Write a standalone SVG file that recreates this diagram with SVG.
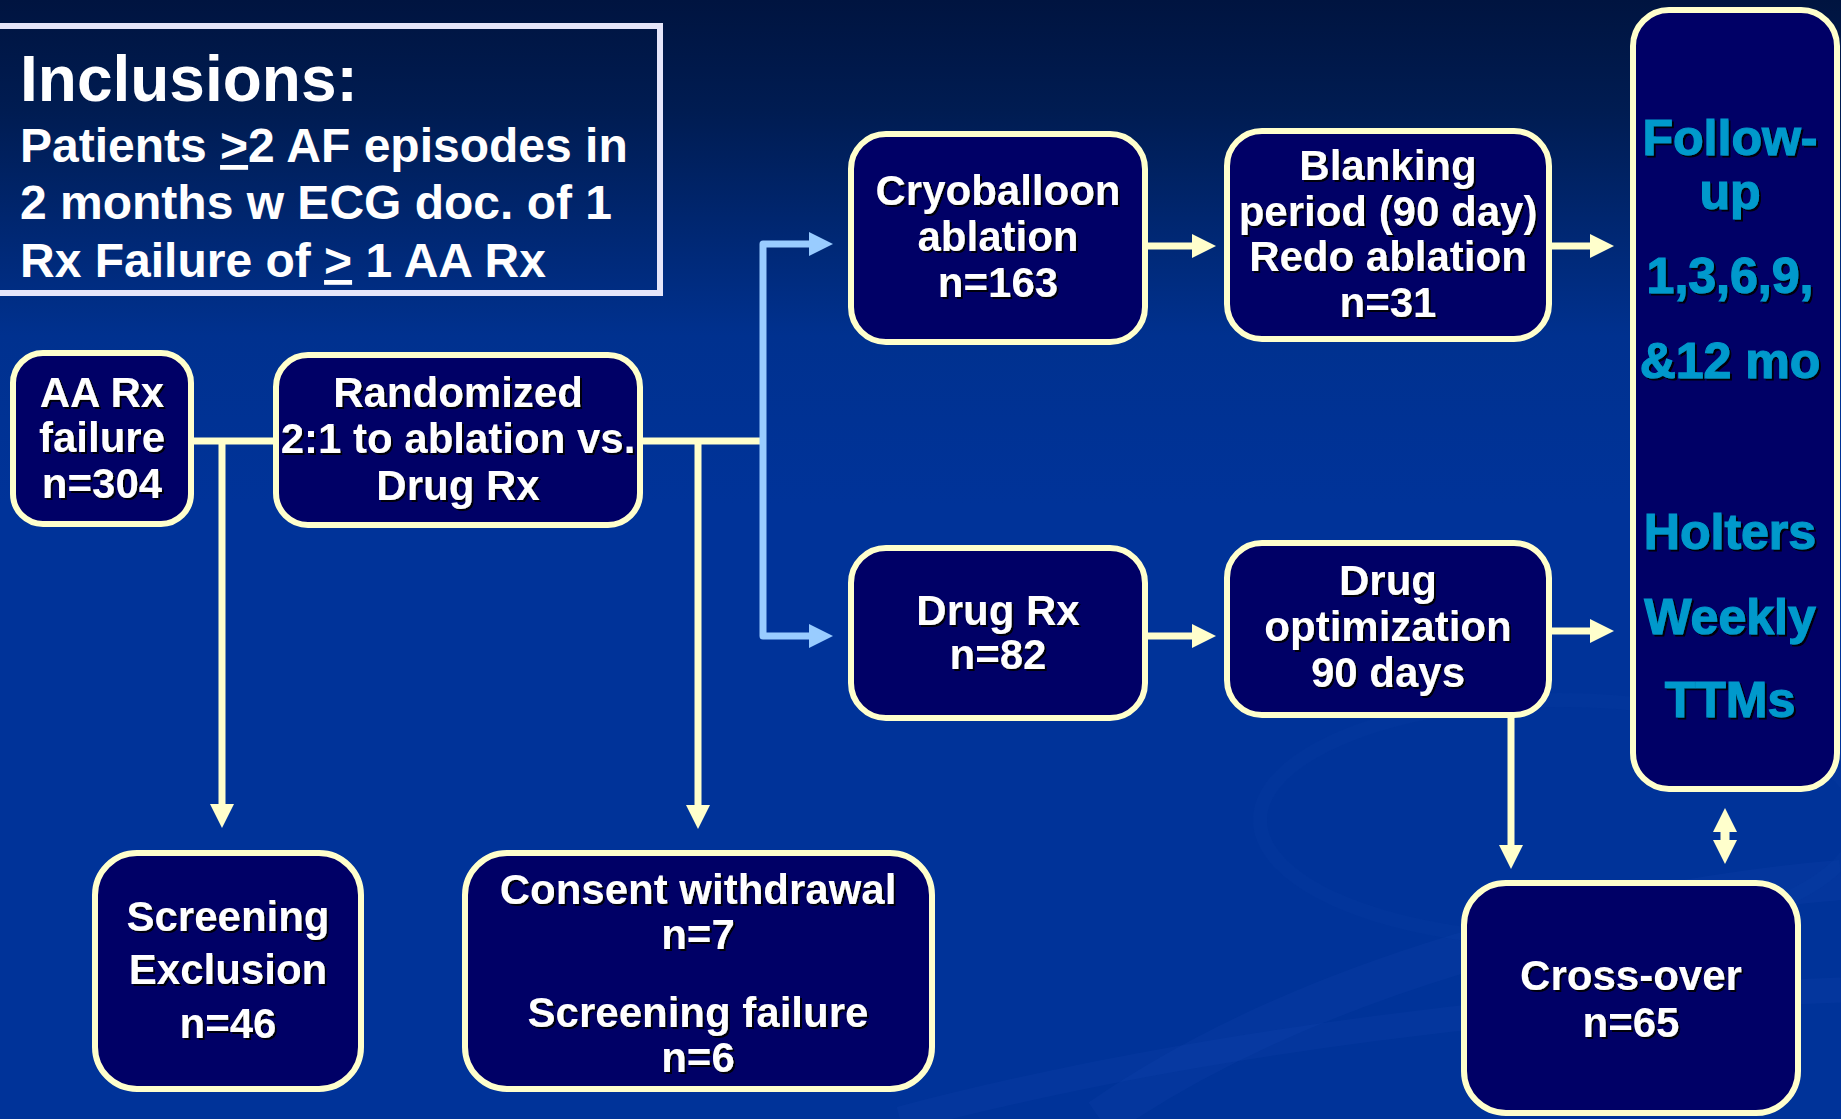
<svg xmlns="http://www.w3.org/2000/svg" width="1841" height="1119" viewBox="0 0 1841 1119">
<defs>
<linearGradient id="bg" x1="0" y1="0" x2="0" y2="1">
<stop offset="0" stop-color="#001440"/>
<stop offset="0.1" stop-color="#001c52"/>
<stop offset="0.3" stop-color="#00318f"/>
<stop offset="0.45" stop-color="#003399"/>
<stop offset="1" stop-color="#003399"/>
</linearGradient>
<filter id="sh" x="-10%" y="-20%" width="130%" height="150%">
<feDropShadow dx="2" dy="2" stdDeviation="0.6" flood-color="#000000" flood-opacity="0.9"/>
</filter>
<marker id="ac" markerUnits="userSpaceOnUse" markerWidth="24" markerHeight="24" viewBox="0 0 24 24" refX="0" refY="12" orient="auto-start-reverse">
<path d="M0,0 L24,12 L0,24 Z" fill="#ffffcc"/>
</marker>
<marker id="ab" markerUnits="userSpaceOnUse" markerWidth="24" markerHeight="24" viewBox="0 0 24 24" refX="0" refY="12" orient="auto-start-reverse">
<path d="M0,0 L24,12 L0,24 Z" fill="#99ccff"/>
</marker>
</defs>
<style>
.node rect{fill:#000066;stroke:#ffffcc;stroke-width:6}
.t{font-family:"Liberation Sans",Arial,sans-serif;font-weight:bold;font-size:42px;fill:#ffffff;text-anchor:middle}
.f{font-family:"Liberation Sans",Arial,sans-serif;font-weight:bold;font-size:50px;fill:#0099cc;stroke:#0099cc;stroke-width:1.2;text-anchor:middle}
.inc{font-family:"Liberation Sans",Arial,sans-serif;font-weight:bold;fill:#ffffff}
.c{fill:none;stroke:#ffffcc;stroke-width:7}
.b{fill:none;stroke:#99ccff;stroke-width:7;stroke-linejoin:round}
</style>
<rect x="0" y="0" width="1841" height="1119" fill="url(#bg)"/>
<g id="swoosh" fill="none" stroke="#2a5bc0">
<path d="M1100,1119 C1300,980 1600,900 1841,880" stroke-width="40" stroke-opacity="0.1"/>
<path d="M900,1119 C1200,1040 1550,1000 1841,990" stroke-width="25" stroke-opacity="0.1"/>
<ellipse cx="1560" cy="820" rx="300" ry="120" stroke-width="14" stroke-opacity="0.05"/>
</g>

<g id="inclusions">
<rect x="-6" y="26" width="666" height="267" fill="none" stroke="#e6e6fa" stroke-width="6"/>
<text class="inc" x="20" y="101" font-size="64">Inclusions:</text>
<text class="inc" x="20" y="162" font-size="48">Patients <tspan text-decoration="underline">&gt;</tspan>2 AF episodes in</text>
<text class="inc" x="20" y="219" font-size="48">2 months w ECG doc. of 1</text>
<text class="inc" x="20" y="277" font-size="48">Rx Failure of <tspan text-decoration="underline">&gt;</tspan> 1 AA Rx</text>
</g>

<g id="connectors">
<line class="c" x1="194" y1="441" x2="276" y2="441"/>
<line class="c" x1="222" y1="441" x2="222" y2="804" marker-end="url(#ac)"/>
<line class="c" x1="643" y1="441" x2="763" y2="441"/>
<line class="c" x1="698" y1="441" x2="698" y2="805" marker-end="url(#ac)"/>
<path class="b" d="M809,244 H763 V636 H809" marker-start="url(#ab)" marker-end="url(#ab)"/>
<line class="c" x1="1148" y1="246" x2="1192" y2="246" marker-end="url(#ac)"/>
<line class="c" x1="1552" y1="246" x2="1590" y2="246" marker-end="url(#ac)"/>
<line class="c" x1="1148" y1="636" x2="1192" y2="636" marker-end="url(#ac)"/>
<line class="c" x1="1552" y1="631" x2="1590" y2="631" marker-end="url(#ac)"/>
<line class="c" x1="1511" y1="717" x2="1511" y2="845" marker-end="url(#ac)"/>
<line x1="1725" y1="832" x2="1725" y2="840" stroke="#ffffcc" stroke-width="9" marker-start="url(#ac)" marker-end="url(#ac)"/>
</g>

<g id="aa" class="node">
<rect x="13" y="353" width="178" height="171" rx="30"/>
<g filter="url(#sh)">
<text class="t" x="102" y="407">AA Rx</text>
<text class="t" x="102" y="452">failure</text>
<text class="t" x="102" y="498">n=304</text>
</g>
</g>

<g id="randomized" class="node">
<rect x="276" y="355" width="364" height="170" rx="32"/>
<g filter="url(#sh)">
<text class="t" x="458" y="407">Randomized</text>
<text class="t" x="458" y="453">2:1 to ablation vs.</text>
<text class="t" x="458" y="500">Drug Rx</text>
</g>
</g>

<g id="cryo" class="node">
<rect x="851" y="134" width="294" height="208" rx="35"/>
<g filter="url(#sh)">
<text class="t" x="998" y="205">Cryoballoon</text>
<text class="t" x="998" y="251">ablation</text>
<text class="t" x="998" y="297">n=163</text>
</g>
</g>

<g id="blanking" class="node">
<rect x="1227" y="131" width="322" height="208" rx="35"/>
<g filter="url(#sh)">
<text class="t" x="1388" y="180">Blanking</text>
<text class="t" x="1388" y="226">period (90 day)</text>
<text class="t" x="1388" y="271">Redo ablation</text>
<text class="t" x="1388" y="317">n=31</text>
</g>
</g>

<g id="drugrx" class="node">
<rect x="851" y="548" width="294" height="170" rx="35"/>
<g filter="url(#sh)">
<text class="t" x="998" y="625">Drug Rx</text>
<text class="t" x="998" y="669">n=82</text>
</g>
</g>

<g id="drugopt" class="node">
<rect x="1227" y="543" width="322" height="172" rx="35"/>
<g filter="url(#sh)">
<text class="t" x="1388" y="595">Drug</text>
<text class="t" x="1388" y="641">optimization</text>
<text class="t" x="1388" y="687">90 days</text>
</g>
</g>

<g id="followup" class="node">
<rect x="1633" y="10" width="204" height="779" rx="36"/>
<g filter="url(#sh)">
<text class="f" x="1730" y="155">Follow-</text>
<text class="f" x="1730" y="209">up</text>
<text class="f" x="1730" y="293">1,3,6,9,</text>
<text class="f" x="1730" y="378">&amp;12 mo</text>
<text class="f" x="1730" y="549">Holters</text>
<text class="f" x="1730" y="634">Weekly</text>
<text class="f" x="1730" y="717">TTMs</text>
</g>
</g>

<g id="screening" class="node">
<rect x="95" y="853" width="266" height="236" rx="42"/>
<g filter="url(#sh)">
<text class="t" x="228" y="931">Screening</text>
<text class="t" x="228" y="984">Exclusion</text>
<text class="t" x="228" y="1038">n=46</text>
</g>
</g>

<g id="consent" class="node">
<rect x="465" y="853" width="467" height="236" rx="42"/>
<g filter="url(#sh)">
<text class="t" x="698" y="904">Consent withdrawal</text>
<text class="t" x="698" y="949">n=7</text>
<text class="t" x="698" y="1027">Screening failure</text>
<text class="t" x="698" y="1072">n=6</text>
</g>
</g>

<g id="crossover" class="node">
<rect x="1464" y="883" width="334" height="230" rx="42"/>
<g filter="url(#sh)">
<text class="t" x="1631" y="990">Cross-over</text>
<text class="t" x="1631" y="1037">n=65</text>
</g>
</g>
</svg>
